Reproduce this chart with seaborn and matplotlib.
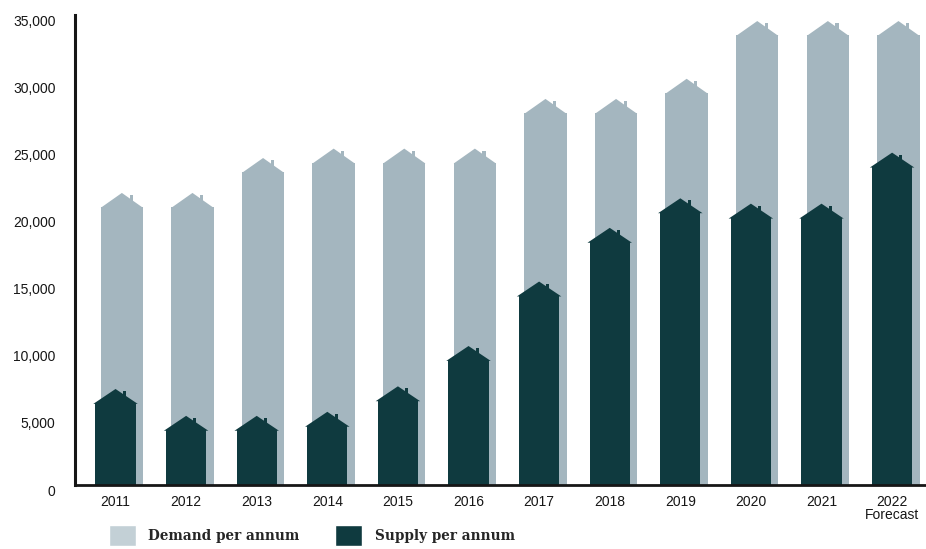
import numpy as np
import pandas as pd
import seaborn as sns
import matplotlib.pyplot as plt
from matplotlib.patches import Polygon, Rectangle, Patch
from matplotlib.transforms import ScaledTranslation

# Values (units per year, height to the eaves)
years = ['2011', '2012', '2013', '2014', '2015', '2016',
         '2017', '2018', '2019', '2020', '2021', '2022\nForecast']
demand = [20700, 20700, 23300, 24000, 24000, 24000,
          27700, 27700, 29200, 33500, 33500, 33500]
supply = [6100, 4100, 4100, 4400, 6300, 9300,
          14100, 18100, 20300, 19900, 19900, 23700]

DEMAND_C = '#a4b6bf'
SUPPLY_C = '#0f3a3f'
INK = '#161616'
ROOF = 1050  # roof height in data units

sns.set_style('white')
plt.rcParams['font.family'] = ['Liberation Sans', 'DejaVu Sans']

df = pd.DataFrame({'year': years, 'demand': demand, 'supply': supply})

fig = plt.figure(figsize=(9.26, 5.49), dpi=100)
ax = fig.add_axes([75 / 926, 1 - 485 / 549, 851 / 926, 470 / 549])

sns.barplot(data=df, x='year', y='demand', color=DEMAND_C, saturation=1,
            width=0.6, linewidth=0, ax=ax)
sns.barplot(data=df, x='year', y='supply', color=SUPPLY_C, saturation=1,
            width=0.57, linewidth=0, ax=ax)

# demand bars sit a little to the right of the supply bars
for p in ax.containers[0]:
    p.set_x(p.get_x() + 0.09)


def add_roof(p, color, eave, z):
    x0, w, h = p.get_x(), p.get_width(), p.get_height()
    ax.add_patch(Polygon([(x0 - eave, h - 60), (x0 + w / 2, h + ROOF), (x0 + w + eave, h - 60)],
                         closed=True, facecolor=color, edgecolor='none', zorder=z))
    ax.add_patch(Rectangle((x0 + 0.68 * w, h + 0.35 * ROOF), 0.075 * w, 0.5 * ROOF,
                           facecolor=color, edgecolor='none', zorder=z))


for p in ax.containers[0]:
    p.set_zorder(1)
    add_roof(p, DEMAND_C, 0.0, 1)
for p in ax.containers[1]:
    p.set_zorder(2)
    add_roof(p, SUPPLY_C, 0.03, 2)

ax.set_xlim(-0.574, 11.48)
ax.set_ylim(0, 35000)
ax.set_xlabel('')
ax.set_ylabel('')

yt = list(range(0, 35001, 5000))
ax.set_yticks(yt)
ax.set_yticklabels(['0'] + [f'{v:,}' for v in yt[1:]])
ax.tick_params(axis='y', direction='in', length=13, width=2.2, pad=14,
               labelsize=10, colors=INK)
ax.tick_params(axis='x', which='major', length=0, pad=7, labelsize=10, colors=INK)
ax.set_xticks(np.arange(0.5, 11, 1), minor=True)
ax.tick_params(axis='x', which='minor', direction='in', length=6, width=2, colors=INK)
for lab in ax.get_xticklabels():
    lab.set_linespacing(0.95)
shift = ScaledTranslation(0, -5 / 100, fig.dpi_scale_trans)
for lab in ax.get_yticklabels():
    lab.set_transform(lab.get_transform() + shift)

sns.despine(ax=ax)
ax.spines['left'].set_linewidth(2.2)
ax.spines['bottom'].set_linewidth(2)
ax.spines['left'].set_color(INK)
ax.spines['bottom'].set_color(INK)

handles = [Patch(facecolor='#c3d0d6', label='Demand per annum'),
           Patch(facecolor=SUPPLY_C, label='Supply per annum')]
fig.legend(handles=handles, loc='lower left', bbox_to_anchor=(109 / 926, 3 / 549),
           ncol=2, frameon=False, handlelength=2.0, handleheight=2.0,
           handletextpad=0.9, columnspacing=2.6, borderaxespad=0, borderpad=0,
           prop={'family': 'DejaVu Serif', 'weight': 'bold', 'size': 9.8})

fig.savefig('out.png', dpi=100)
